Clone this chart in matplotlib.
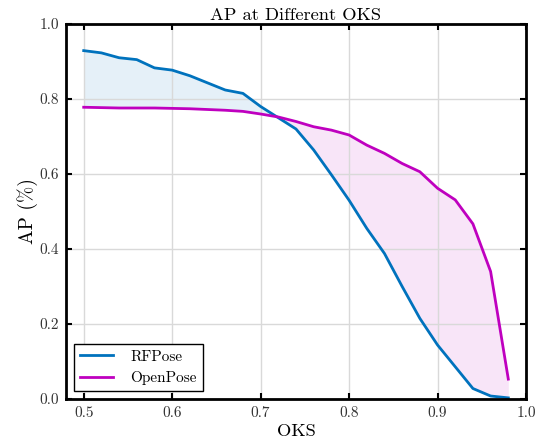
import matplotlib
matplotlib.use("Agg")
import matplotlib.pyplot as plt
import numpy as np

plt.rcParams['font.family'] = 'serif'
plt.rcParams['font.serif'] = ['cmr10']
plt.rcParams['mathtext.fontset'] = 'cm'
plt.rcParams['axes.formatter.use_mathtext'] = True

oks = [0.50, 0.52, 0.54, 0.56, 0.58, 0.60, 0.62, 0.64, 0.66, 0.68, 0.70, 0.72,
       0.74, 0.76, 0.78, 0.80, 0.82, 0.84, 0.86, 0.88, 0.90, 0.92, 0.94, 0.96, 0.98]
rfpose = [0.929, 0.923, 0.910, 0.905, 0.883, 0.877, 0.862, 0.843, 0.824, 0.815,
          0.780, 0.750, 0.720, 0.664, 0.598, 0.530, 0.455, 0.388, 0.300, 0.215,
          0.144, 0.086, 0.028, 0.008, 0.003]
openpose = [0.778, 0.777, 0.776, 0.776, 0.776, 0.775, 0.774, 0.772, 0.770, 0.767,
            0.760, 0.752, 0.740, 0.726, 0.717, 0.704, 0.677, 0.655, 0.628, 0.606,
            0.562, 0.531, 0.467, 0.340, 0.053]

blue = '#0072BD'
mag = '#BF00BF'

x = np.array(oks)
a = np.array(rfpose)
b = np.array(openpose)

fig = plt.figure(figsize=(5.35, 4.44), dpi=100)
ax = fig.add_axes([66 / 535, 45 / 444, 460 / 535, 375 / 444])

ax.fill_between(x, a, b, where=a >= b, interpolate=True, color=blue, alpha=0.1, lw=0)
ax.fill_between(x, a, b, where=a <= b, interpolate=True, color=mag, alpha=0.1, lw=0)
ax.plot(x, a, color=blue, lw=2, label='RFPose')
ax.plot(x, b, color=mag, lw=2, label='OpenPose')

ax.set_xlim(0.48, 1.0)
ax.set_ylim(0, 1.0)
ax.set_xticks([0.5, 0.6, 0.7, 0.8, 0.9, 1.0])
ax.set_yticks([0, 0.2, 0.4, 0.6, 0.8, 1.0])
ax.set_xticklabels(['0.5', '0.6', '0.7', '0.8', '0.9', '1.0'])
ax.set_yticklabels(['0.0', '0.2', '0.4', '0.6', '0.8', '1.0'])
ax.grid(True, color='#d9d9d9', lw=1)
ax.tick_params(direction='in', top=True, right=True, length=4, width=1.5,
               labelsize=11, labelcolor='#333333', pad=5)
for s in ax.spines.values():
    s.set_linewidth(2)

ax.set_title('AP at Different OKS', fontsize=13.3, pad=3)
ax.set_xlabel('OKS', fontsize=13.3, labelpad=3)
ax.set_ylabel('AP (%)', fontsize=14, labelpad=1)

leg = ax.legend(loc='lower left', fancybox=False, edgecolor='black', framealpha=1,
                fontsize=11, borderaxespad=0.5, handlelength=2.2, handletextpad=1.1)
leg.get_frame().set_linewidth(1)

fig.savefig('out.png', dpi=100)
